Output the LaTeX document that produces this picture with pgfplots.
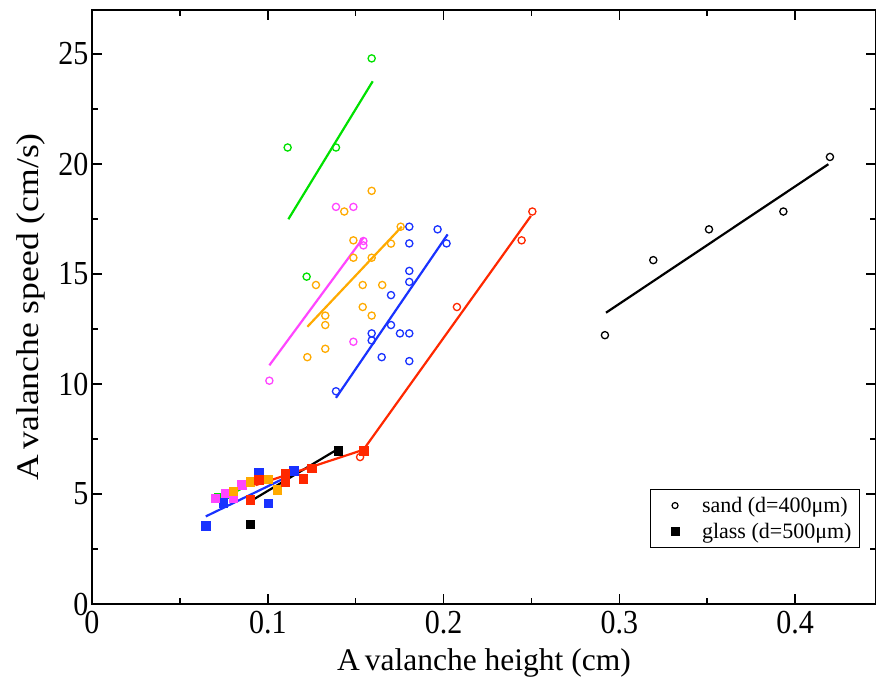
\documentclass[border=0pt]{standalone}
\usepackage{fontspec}
\setmainfont{Liberation Serif}
\usepackage{graphicx}
\usepackage{pgfplots}
\pgfplotsset{compat=1.18}
\definecolor{cgreen}{RGB}{0,225,0}
\definecolor{cblue}{RGB}{25,50,255}
\definecolor{cred}{RGB}{255,40,0}
\definecolor{corange}{RGB}{255,170,0}
\definecolor{cmag}{RGB}{255,70,255}
\begin{document}
\begin{tikzpicture}
\begin{axis}[
  scale only axis, width=784bp, height=594bp,
  xmin=0, xmax=0.446, ymin=0, ymax=27,
  xtick={0,0.1,0.2,0.3,0.4}, xticklabels={0,0.1,0.2,0.3,0.4},
  minor xtick={0.05,0.15,0.25,0.35},
  ytick={0,5,10,15,20,25}, minor ytick={2.5,7.5,12.5,17.5,22.5},
  tick align=inside, major tick length=10bp, minor tick length=6bp,
  axis line style={line width=1.6bp},
  tick style={line width=1.6bp, black},
  tick label style={font=\fontsize{30bp}{36bp}\selectfont},
  yticklabel style={yscale=1.12},
  xticklabel style={yshift=-3bp, yscale=1.12},
  label style={font=\fontsize{31.5bp}{36bp}\selectfont},
  xlabel style={yshift=-8bp},
  ylabel style={yshift=6.5bp},
  /pgf/number format/assume math mode=true,
  xlabel={A\kern5bp valanche height (cm)},
  ylabel={\scalebox{1.13}[1]{A\kern5bp valanche speed (cm/s)}},
  legend style={at={(rel axis cs:0.9796,0.094)}, anchor=south east,
    font=\fontsize{22bp}{26bp}\selectfont, draw=black, line width=1bp,
    row sep=5bp, inner xsep=6bp, inner ysep=6bp,
    /tikz/every odd column/.append style={column sep=14bp}},
  legend cell align=left,
  legend image code/.code={\path[draw=none,fill=none] (0bp,0bp) -- (30bp,0bp); \draw[#1] plot coordinates {(19bp,0bp)};},
  sand/.style={only marks, mark=o, mark size=3.6bp, line width=1.3bp},
  glass/.style={only marks, mark=square*, mark size=4.3bp},
  fit/.style={no marks, line width=2.2bp},
]
\addlegendimage{only marks, mark=o, mark size=3bp, line width=1.2bp, black}
\addlegendentry{sand (d=400μm)}
\addlegendimage{only marks, mark=square*, mark size=4bp, black}
\addlegendentry{glass (d=500μm)}

% ---- glass (filled squares) ----
\addplot[glass, cgreen, forget plot] coordinates {(0.072,4.85) (0.080,5.0)};
\addplot[glass, cblue, forget plot] coordinates {
 (0.0647,3.57) (0.0950,5.98) (0.1003,4.58) (0.0747,4.61) (0.1149,6.06)};
\addplot[glass, cmag, forget plot] coordinates {
 (0.0700,4.81) (0.0757,5.04) (0.0851,5.42) (0.0804,4.81)};
\addplot[glass, corange, forget plot] coordinates {
 (0.0899,5.57) (0.1003,5.68) (0.1054,5.19) (0.0804,5.12)};
\addplot[glass, cred, forget plot] coordinates {
 (0.0899,4.74) (0.0950,5.65) (0.1098,5.57) (0.1098,5.95) (0.1202,5.69) (0.1249,6.18) (0.1544,6.98)};
\addplot[glass, black, forget plot] coordinates {(0.0899,3.63) (0.1401,6.98)};

% ---- sand (open circles) ----
\addplot[sand, black, forget plot] coordinates {
 (0.2918,12.22) (0.3193,15.63) (0.3510,17.03) (0.3933,17.84) (0.4198,20.32)};
\addplot[sand, cgreen, forget plot] coordinates {
 (0.1591,24.80) (0.1113,20.75) (0.1388,20.75) (0.1221,14.88)};
\addplot[sand, cmag, forget plot] coordinates {
 (0.1388,18.05) (0.1487,18.05) (0.1544,16.50) (0.1544,16.30) (0.1487,11.92) (0.1009,10.15)};
\addplot[sand, corange, forget plot] coordinates {
 (0.1591,18.78) (0.1435,17.84) (0.1756,17.15) (0.1487,16.53) (0.1701,16.38)
 (0.1487,15.74) (0.1591,15.74) (0.1274,14.50) (0.1540,14.50) (0.1651,14.50)
 (0.1540,13.50) (0.1591,13.11) (0.1327,13.11) (0.1327,12.68) (0.1327,11.60) (0.1225,11.22)};
\addplot[sand, cblue, forget plot] coordinates {
 (0.1805,17.15) (0.1966,17.03) (0.1805,16.39) (0.2017,16.39) (0.1805,15.14)
 (0.1805,14.64) (0.1701,14.04) (0.1701,12.68) (0.1591,12.30) (0.1591,11.98)
 (0.1752,12.30) (0.1805,12.30) (0.1648,11.22) (0.1805,11.04) (0.1388,9.67)};
\addplot[sand, cred, forget plot] coordinates {
 (0.2505,17.84) (0.2444,16.53) (0.2076,13.50) (0.1525,6.68)};

% ---- fit lines ----
\addplot[fit, cgreen, forget plot] coordinates {(0.0694,4.66) (0.0846,5.22)};
\addplot[fit, cblue, forget plot] coordinates {(0.0647,3.98) (0.1183,6.06)};
\addplot[fit, black, forget plot] coordinates {(0.0899,4.66) (0.1392,7.01)};
\addplot[fit, cred, forget plot] coordinates {(0.0930,5.40) (0.1544,7.01) (0.2497,17.64)};
\addplot[fit, black, forget plot] coordinates {(0.2924,13.24) (0.4189,19.99)};
\addplot[fit, cgreen, forget plot] coordinates {(0.1117,17.49) (0.1597,23.76)};
\addplot[fit, cmag, forget plot] coordinates {(0.1009,10.85) (0.1544,16.65)};
\addplot[fit, corange, forget plot] coordinates {(0.1225,12.60) (0.1762,17.15)};
\addplot[fit, cblue, forget plot] coordinates {(0.1388,9.37) (0.2023,16.80)};
\end{axis}
\pgfresetboundingbox
\path ([xshift=-92bp,yshift=-77bp]current axis.south west) rectangle ([yshift=10bp]current axis.north east);
\end{tikzpicture}
\end{document}
